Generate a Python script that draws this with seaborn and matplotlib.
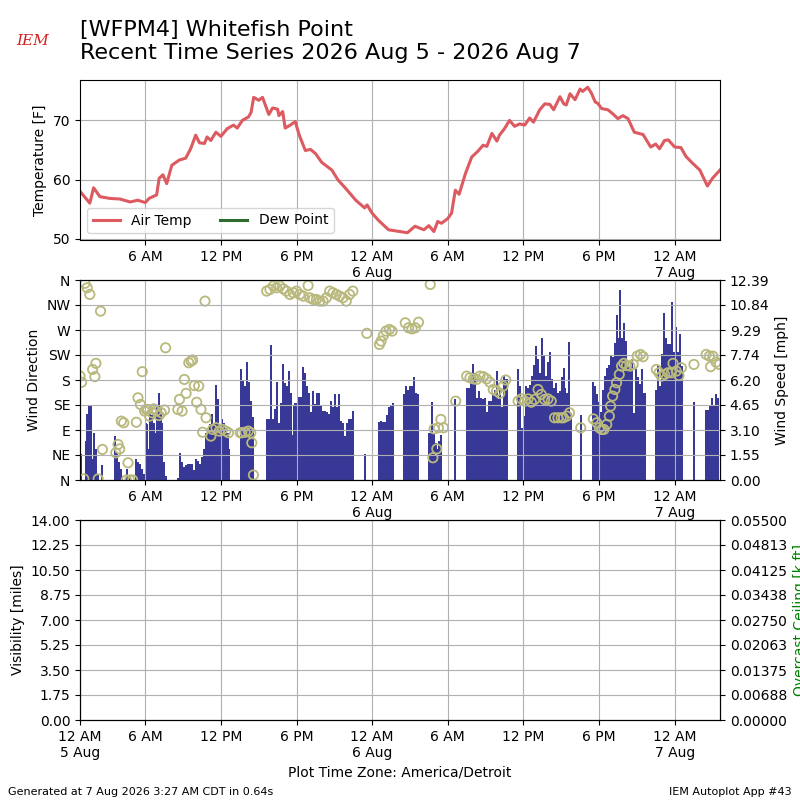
import numpy as np
import matplotlib
matplotlib.use("Agg")
import matplotlib.pyplot as plt
import seaborn as sns
import pandas as pd

# hours since 12 AM 5 Aug 2026 (America/Detroit)
temp_hours = [0.82, 1.6, 1.9, 2.4, 3.2, 4.0, 4.8, 5.4, 6.0, 6.3, 6.9, 7.1, 7.4, 7.7, 8.1,
              8.7, 9.2, 9.6, 10.0, 10.3, 10.7, 10.9, 11.2, 11.6, 12.0, 12.5, 13.0, 13.3,
              13.7, 14.2, 14.4, 14.6, 15.0, 15.3, 15.8, 16.1, 16.5, 16.6, 16.9, 17.1, 17.5,
              17.9, 18.2, 18.7, 19.1, 19.5, 20.0, 20.8, 21.3, 21.9, 22.7, 23.4, 23.6, 24.0,
              24.5, 25.3, 26.2, 26.8, 27.4, 28.1, 28.5, 28.9, 29.2, 29.5, 30.0, 30.3, 30.6,
              30.9, 31.4, 31.9, 32.4, 32.8, 33.1, 33.5, 33.9, 34.1, 34.5, 34.9, 35.3, 35.7,
              36.1, 36.5, 36.8, 37.3, 37.7, 38.1, 38.4, 38.9, 39.2, 39.4, 39.7, 40.1, 40.5,
              40.7, 41.1, 41.4, 41.7, 41.9, 42.2, 42.7, 43.1, 43.5, 43.9, 44.3, 44.8, 45.5,
              46.1, 46.5, 46.8, 47.2, 47.5, 48.0, 48.5, 48.9, 49.4, 50.0, 50.6, 51.0, 51.6]
temp_f = [58.0, 56.0, 58.6, 57.1, 56.8, 56.7, 56.2, 56.5, 56.1, 56.8, 57.4, 60.2, 60.8, 59.3, 62.4,
          63.3, 63.6, 65.2, 67.5, 66.2, 66.1, 67.2, 66.6, 68.0, 67.3, 68.6, 69.2, 68.7,
          70.0, 70.6, 71.4, 73.9, 73.4, 73.9, 71.0, 72.1, 71.9, 70.8, 71.5, 68.7, 69.2,
          69.8, 67.6, 64.9, 65.1, 64.4, 62.9, 61.6, 59.9, 58.5, 56.5, 55.2, 55.7, 54.3,
          53.1, 51.5, 51.2, 51.0, 52.1, 51.5, 52.2, 51.2, 52.9, 52.6, 53.4, 54.3, 58.2,
          57.5, 61.0, 63.8, 64.8, 65.8, 65.6, 67.8, 66.5, 67.5, 68.6, 70.0, 69.0, 69.4,
          69.2, 70.4, 69.7, 71.8, 72.8, 72.7, 71.8, 74.0, 72.8, 72.6, 74.5, 73.5, 75.3,
          74.9, 75.6, 74.6, 73.1, 72.9, 72.0, 71.8, 71.1, 70.3, 70.8, 70.3, 68.0, 67.6,
          65.5, 66.0, 65.2, 66.6, 66.7, 65.5, 65.4, 63.9, 62.8, 61.6, 58.9, 60.2, 61.6]

speed_hours = [0.92, 1.29, 1.39, 1.53, 1.68, 1.79, 1.92, 2.08, 2.21, 2.58, 3.61, 3.74, 3.92,
               4.05, 4.18, 4.55, 4.76, 5.24, 5.42, 5.61, 5.76, 5.89, 6.03, 6.16, 6.29, 6.39,
               6.55, 6.68, 6.82, 6.95, 7.08, 7.21, 7.34, 7.47, 7.61, 8.61, 8.76, 8.92, 9.08,
               9.24, 9.39, 9.55, 9.71, 9.87, 10.03, 10.18, 10.34, 10.5, 10.66, 10.82, 10.97,
               11.13, 11.29, 11.45, 11.61, 11.76, 11.92, 12.08, 12.24, 12.39, 12.55, 12.66,
               13.58, 13.74, 13.9, 14.05, 14.2, 14.36, 14.52, 15.63, 15.79, 15.95, 16.1,
               16.26, 16.42, 16.58, 16.74, 16.89, 17.05, 17.21, 17.37, 17.53, 17.63, 17.79,
               17.89, 18.05, 18.21, 18.37, 18.53, 18.68, 18.84, 19.0, 19.16, 19.32, 19.47,
               19.63, 19.79, 19.95, 20.11, 20.26, 20.42, 20.58, 20.74, 20.89, 21.05, 21.21,
               21.37, 21.53, 21.68, 21.84, 22.0, 22.16, 22.32, 22.47, 23.47, 24.58, 24.74,
               24.89, 25.05, 25.21, 25.37, 25.53, 25.63, 26.55, 26.71, 26.87, 27.03, 27.18,
               27.34, 27.5, 27.66, 28.55, 28.71, 28.87, 29.03, 29.18, 29.34, 29.5, 30.58,
               31.5, 31.66, 31.82, 31.97, 32.13, 32.29, 32.45, 32.61, 32.76, 32.92, 33.08,
               33.24, 33.4, 33.55, 33.71, 33.87, 34.03, 34.18, 34.34, 34.5, 34.66, 35.58,
               35.74, 35.9, 36.05, 36.21, 36.37, 36.53, 36.68, 36.84, 37.0, 37.16, 37.32,
               37.47, 37.63, 37.79, 37.95, 38.11, 38.26, 38.42, 38.58, 38.74, 38.9, 39.05,
               39.2, 39.34, 39.5, 39.63, 39.76, 40.55, 41.55, 41.71, 41.87, 42.03, 42.18,
               42.34, 42.5, 42.66, 42.82, 42.97, 43.13, 43.29, 43.42, 43.55, 43.68, 43.84,
               44.0, 44.16, 44.32, 44.47, 44.63, 44.76, 44.92, 45.08, 45.24, 45.39, 45.55,
               45.66, 46.55, 46.71, 46.87, 47.03, 47.18, 47.34, 47.5, 47.66, 47.79, 47.92,
               48.08, 48.24, 48.39, 48.55, 49.55, 50.5, 50.66, 50.82, 50.97, 51.13, 51.29,
               51.45]
speed_mph = [1.6, 2.4, 4.1, 4.6, 4.6, 1.3, 2.9, 1.9, 0.35, 0.9, 2.7, 1.7, 1.1,
             0.7, 0.25, 0.7, 0.25, 1.3, 1.1, 1.0, 0.7, 0.35, 3.55, 3.45, 1.9, 4.5,
             4.0, 3.55, 2.9, 4.5, 5.4, 4.5, 3.55, 1.1, 0.25, 0.1, 1.7, 1.1, 0.8,
             0.9, 1.0, 1.0, 1.0, 0.6, 1.3, 1.2, 1.0, 1.4, 1.9, 2.9, 3.1,
             3.45, 4.1, 3.55, 5.9, 5.0, 3.25, 3.75, 3.55, 3.25, 2.9, 1.9,
             6.9, 6.2, 5.8, 7.3, 6.1, 4.9, 3.9, 3.75, 3.75, 8.35, 3.75,
             4.4, 6.1, 3.55, 4.8, 7.2, 6.0, 5.8, 6.75, 5.4, 2.8, 4.6,
             4.75, 4.8, 5.15, 5.15, 7.0, 6.65, 5.8, 5.4, 4.2, 5.5, 4.7,
             5.4, 5.4, 4.6, 4.25, 4.25, 4.2, 4.1, 4.9, 4.5, 5.3, 4.5,
             5.3, 3.65, 3.55, 2.7, 3.55, 3.75, 3.75, 4.25, 1.6, 3.6, 3.65,
             3.6, 3.6, 4.05, 4.5, 4.6, 4.75, 5.3, 5.8, 5.6, 5.8, 5.8,
             6.4, 5.4, 5.35, 2.9, 4.85, 2.9, 2.3, 1.9, 2.4, 2.8, 5.0,
             5.7, 5.7, 6.35, 7.2, 6.65, 5.1, 5.5, 5.1, 5.0, 5.1, 4.2,
             4.9, 4.9, 5.4, 5.6, 6.75, 5.0, 5.6, 4.5, 6.45, 6.25, 6.85,
             5.8, 3.25, 3.95, 5.8, 5.7, 5.9, 6.45, 7.1, 8.3, 7.5, 6.65,
             8.8, 7.7, 6.45, 7.3, 7.9, 6.25, 5.7, 6.0, 5.4, 5.5, 6.35,
             6.95, 5.7, 5.4, 8.55, 4.15, 4.05, 6.05, 5.8, 5.3, 4.85, 4.2,
             5.6, 6.45, 6.95, 7.1, 7.7, 7.6, 8.5, 10.2, 8.8, 11.8, 8.8,
             9.75, 8.6, 7.15, 7.05, 7.5, 4.15, 6.85, 6.35, 5.95, 6.85, 5.4,
             5.4, 5.6, 7.05, 5.8, 7.8, 10.35, 8.8, 8.4, 8.4, 11.0, 7.9,
             9.45, 7.9, 9.05, 7.05, 4.85, 4.35, 4.35, 4.6, 5.05, 4.65, 5.35,
             5.1]

dir_hours = [0.82, 0.95, 1.13, 1.21, 1.39, 1.6, 1.82, 2.0, 2.08, 2.26, 2.45, 2.6, 3.66, 3.84,
             3.97, 4.1, 4.29, 4.5, 4.63, 4.76, 5.0, 5.29, 5.42, 5.61, 5.76, 5.95, 6.08, 6.21,
             6.34, 6.55, 6.66, 6.87, 7.08, 7.26, 7.53, 7.61, 8.58, 8.71, 8.92, 9.1, 9.24,
             9.45, 9.63, 9.76, 9.89, 10.08, 10.24, 10.42, 10.55, 10.74, 10.82, 11.2, 11.34,
             11.61, 11.87, 12.13, 12.39, 12.6, 13.53, 13.66, 13.92, 14.18, 14.37, 14.45,
             14.58, 15.63, 15.89, 16.16, 16.42, 16.68, 16.95, 17.21, 17.47, 17.74, 18.0,
             18.26, 18.53, 18.92, 19.05, 19.32, 19.58, 19.84, 20.11, 20.37, 20.63, 20.89,
             21.16, 21.42, 21.68, 21.95, 22.21, 22.47, 23.58, 24.58, 24.71, 24.89, 25.1,
             25.37, 25.58, 26.63, 26.89, 27.16, 27.42, 27.68, 28.61, 28.82, 29.13, 28.92,
             29.26, 29.45, 29.66, 30.63, 31.5, 31.76, 32.03, 32.29, 32.55, 32.82, 33.08,
             33.34, 33.61, 33.87, 34.13, 34.39, 34.6, 35.58, 35.84, 36.11, 36.37, 36.63,
             36.89, 37.16, 37.42, 37.68, 37.95, 38.21, 38.47, 38.74, 39.0, 39.18, 39.45,
             39.66, 40.55, 41.55, 41.82, 42.03, 42.21, 42.39, 42.61, 42.82, 42.92, 43.08,
             43.26, 43.39, 43.61, 43.79, 43.97, 44.18, 44.45, 44.71, 45.03, 45.29, 45.5,
             46.55, 46.76, 46.95, 47.21, 47.47, 47.74, 47.87, 48.13, 48.34, 48.53, 49.53,
             50.5, 50.76, 51.03, 50.85, 51.29, 51.55]
dir_deg = [187, 176, 2, 354, 346, 334, 199, 186, 210, 2, 304, 55, 49, 64,
           56, 106, 103, 0, 31, 0, 0, 104, 148, 136, 195, 124, 127, 127,
           115, 121, 128, 124, 116, 121, 126, 238, 127, 145, 124, 181, 156,
           211, 214, 216, 170, 140, 169, 127, 86, 322, 112, 79, 91,
           94, 88, 91, 88, 85, 85, 85, 86, 88, 85, 67,
           9, 340, 343, 349, 346, 349, 344, 340, 334, 337, 340,
           334, 331, 350, 328, 325, 325, 322, 322, 328, 340, 337,
           334, 331, 328, 322, 334, 340, 264, 244, 250, 260, 268,
           271, 268, 283, 274, 272, 274, 284, 352, 40, 56, 92,
           94, 109, 94, 142, 187, 184, 182, 181, 187, 186, 182,
           176, 163, 160, 156, 169, 180, 142, 146, 142, 146, 140,
           145, 163, 154, 145, 146, 142, 112, 112, 112, 112, 115,
           121, 94, 110, 103, 94, 91, 91, 100, 115, 133, 151,
           163, 175, 190, 205, 210, 206, 205, 208, 223, 226, 222,
           199, 193, 187, 190, 193, 193, 210, 196, 188, 202, 208,
           226, 223, 223, 204, 212, 208]

tick_hours = [6, 12, 18, 24, 30, 36, 42, 48]
tick_labels = ["6 AM", "12 PM", "6 PM", "12 AM\n6 Aug", "6 AM", "12 PM", "6 PM", "12 AM\n7 Aug"]
dir_labels = ["N", "NE", "E", "SE", "S", "SW", "W", "NW", "N"]
ceiling_labels = ["0.00000", "0.00688", "0.01375", "0.02063", "0.02750",
                  "0.03438", "0.04125", "0.04813", "0.05500"]

temp_color = "#dc5a60"
dew_color = "#2e6b2e"
bar_color = "#383896"
dir_color = "#b9b97d"

fig = plt.figure(figsize=(8, 8), dpi=100)
ax_t = fig.add_axes([0.1, 0.7, 0.8, 0.2])
ax_d = fig.add_axes([0.1, 0.4, 0.8, 0.25])
ax_v = fig.add_axes([0.1, 0.1, 0.8, 0.25])
xmin, xmax = temp_hours[0], temp_hours[-1]

# temperature
df_t = pd.DataFrame({"hours": temp_hours, "temp": temp_f})
sns.lineplot(data=df_t, x="hours", y="temp", ax=ax_t, color=temp_color, lw=2.2,
             label="Air Temp", errorbar=None)
ax_t.plot([], [], color=dew_color, lw=2.2, label="Dew Point")
ax_t.legend(loc="lower left", ncol=2)
ax_t.set_xlim(xmin, xmax)
ax_t.set_yticks([50, 60, 70])
ax_t.set_ylabel("Temperature [F]")
ax_t.set_xlabel("")
ax_t.set_xticks(tick_hours)
ax_t.set_xticklabels(tick_labels)
ax_t.grid(True)

# wind
ax_s = ax_d.twinx()
ax_s.bar(speed_hours, speed_mph, width=0.16, color=bar_color, linewidth=0)
top = max(speed_mph) * 1.05
ax_s.set_ylim(0, top)
ax_s.set_yticks(np.linspace(0, top, 9))
ax_s.set_yticklabels(["%.2f" % v for v in np.linspace(0, top, 9)])
ax_s.set_ylabel("Wind Speed [mph]")
ax_d.set_zorder(ax_s.get_zorder() + 1)
ax_d.patch.set_visible(False)

df_d = pd.DataFrame({"hours": dir_hours, "deg": dir_deg})
sns.scatterplot(data=df_d, x="hours", y="deg", ax=ax_d, marker="o", s=45,
                facecolor="none", edgecolor=dir_color, color=dir_color, linewidth=1.3)
ax_d.set_ylim(0, 360)
ax_d.set_yticks(range(0, 361, 45))
ax_d.set_yticklabels(dir_labels)
ax_d.set_ylabel("Wind Direction")
ax_d.set_xlabel("")
ax_d.set_xlim(xmin, xmax)
ax_d.set_xticks(tick_hours)
ax_d.set_xticklabels(tick_labels)
ax_d.grid(True)

# visibility / ceiling (no observations)
ax_v.set_xlim(xmin, xmax)
ax_v.set_ylim(0, 14)
ax_v.set_yticks(np.arange(0, 14.01, 1.75))
ax_v.set_yticklabels(["%.2f" % v for v in np.arange(0, 14.01, 1.75)])
ax_v.set_ylabel("Visibility [miles]")
ax_v.set_xticks([xmin] + tick_hours)
ax_v.set_xticklabels(["12 AM\n5 Aug"] + tick_labels)
ax_v.set_xlabel("Plot Time Zone: America/Detroit")
ax_v.grid(True)
ax_c = ax_v.twinx()
ax_c.set_ylim(0, 0.055)
ax_c.set_yticks(np.linspace(0, 0.055, 9))
ax_c.set_yticklabels(ceiling_labels)
ax_c.set_ylabel("Overcast Ceiling [k ft]", color="g")

fig.text(0.1, 0.975, "[WFPM4] Whitefish Point\nRecent Time Series 2026 Aug 5 - 2026 Aug 7",
         fontsize=16, va="top", ha="left")
fig.text(0.02, 0.944, "IEM", color="#d42020", fontsize=11, style="italic",
         family="DejaVu Serif")
fig.text(0.01, 0.006, "Generated at 7 Aug 2026 3:27 AM CDT in 0.64s", fontsize=8)
fig.text(0.99, 0.006, "IEM Autoplot App #43", fontsize=8, ha="right")

fig.savefig("out.png", dpi=100)
